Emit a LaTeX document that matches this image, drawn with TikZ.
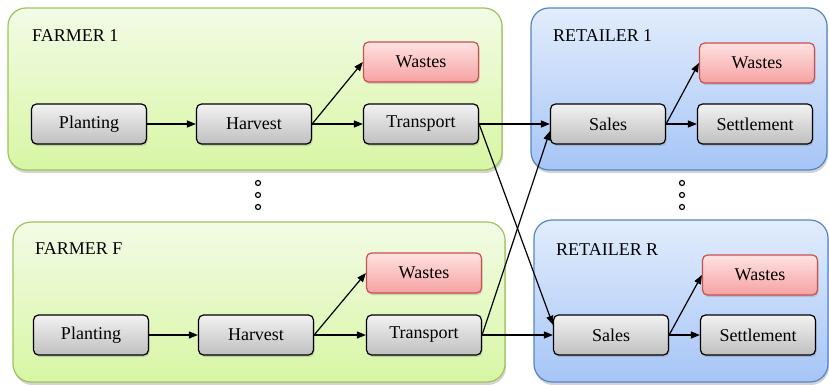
\documentclass[tikz,border=0pt]{standalone}
\usepackage{fontspec}
\setmainfont{Liberation Serif}
\usetikzlibrary{arrows.meta, shadows}

\definecolor{farmtop}{HTML}{F3FBE6}
\definecolor{farmbot}{HTML}{D8F6A4}
\definecolor{farmline}{HTML}{9DC45A}
\definecolor{shoptop}{HTML}{E2EDFD}
\definecolor{shopbot}{HTML}{A6C5F6}
\definecolor{shopline}{HTML}{5585C6}
\definecolor{wastetop}{HTML}{FFE2E2}
\definecolor{wastebot}{HTML}{F6A2A2}
\definecolor{wasteline}{HTML}{C9504E}

\begin{document}
\begin{tikzpicture}[x=1pt, y=-1pt,
    font=\fontsize{18}{21}\selectfont,
    farm/.style={draw=farmline, line width=1.2pt, rounded corners=18pt,
                 top color=farmtop, bottom color=farmbot,
                 drop shadow={shadow xshift=1pt, shadow yshift=-3pt, opacity=0.35}},
    shop/.style={draw=shopline, line width=1.2pt, rounded corners=18pt,
                 top color=shoptop, bottom color=shopbot,
                 drop shadow={shadow xshift=1pt, shadow yshift=-3pt, opacity=0.35}},
    stage/.style={draw, line width=1.2pt, rounded corners=5pt,
                  minimum width=115pt, minimum height=40pt,
                  top color=gray!10, bottom color=gray!50,
                  drop shadow={shadow xshift=1pt, shadow yshift=-2pt, opacity=0.3}},
    waste/.style={stage, draw=wasteline, top color=wastetop, bottom color=wastebot},
    title/.style={anchor=west, inner sep=0pt},
    dot/.style={draw, line width=1.2pt, fill=white, circle, inner sep=0pt, minimum size=5pt},
    arrow/.style={-{Triangle[length=9pt, width=7pt]}, line width=1.2pt},
]

\useasboundingbox (0,0) rectangle (829,385);

% containers
\node[farm, minimum width=494pt, minimum height=162pt] (farm1) at (255,89) {};
\node[shop, minimum width=296pt, minimum height=162pt] (shop1) at (679,89) {};
\node[farm, minimum width=492pt, minimum height=160pt] (farmF) at (259,302) {};
\node[shop, minimum width=294pt, minimum height=162pt] (shopR) at (681,301) {};

\node[title] (farm1lbl) at (32,36)  {FARMER 1};
\node[title] (shop1lbl) at (553,36) {RETAILER 1};
\node[title] (farmFlbl) at (35,249) {FARMER F};
\node[title] (shopRlbl) at (556,250) {RETAILER R};

% farmer 1
\node[stage] (plant1) at (89,124)  {Planting};
\node[stage] (harv1)  at (254,124) {Harvest};
\node[stage] (trans1) at (421,124) {Transport};
\node[waste] (fwaste1) at (421,62) {Wastes};

% retailer 1
\node[stage] (sales1)  at (608,124) {Sales};
\node[stage] (settle1) at (755,124) {Settlement};
\node[waste] (rwaste1) at (757,63)  {Wastes};

% farmer F
\node[stage] (plantF) at (91,335)  {Planting};
\node[stage] (harvF)  at (256,335) {Harvest};
\node[stage] (transF) at (424,335) {Transport};
\node[waste] (fwasteF) at (424,273) {Wastes};

% retailer R
\node[stage] (salesR)  at (611,335) {Sales};
\node[stage] (settleR) at (758,335) {Settlement};
\node[waste] (rwasteR) at (760,275) {Wastes};

% dots between farmers and between retailers
\node[dot] (fdot1) at (258,183) {};
\node[dot] (fdot2) at (258,195) {};
\node[dot] (fdot3) at (258,207) {};
\node[dot] (rdot1) at (682,183) {};
\node[dot] (rdot2) at (682,195) {};
\node[dot] (rdot3) at (682,207) {};

% flows inside farmers
\draw[arrow] (plant1.east) -- (harv1.west);
\draw[arrow] (harv1.east) -- (trans1.west);
\draw[arrow] (harv1.east) -- (fwaste1.west);
\draw[arrow] (plantF.east) -- (harvF.west);
\draw[arrow] (harvF.east) -- (transF.west);
\draw[arrow] (harvF.east) -- (fwasteF.west);

% flows inside retailers
\draw[arrow] (sales1.east) -- (settle1.west);
\draw[arrow] (sales1.east) -- (rwaste1.west);
\draw[arrow] (salesR.east) -- (settleR.west);
\draw[arrow] (salesR.east) -- (rwasteR.west);

% farmers to retailers
\draw[arrow] (trans1.east) -- (sales1.west);
\draw[arrow] (trans1.east) -- (salesR.170);
\draw[arrow] (transF.east) -- (sales1.187);
\draw[arrow] (transF.east) -- (salesR.west);

\end{tikzpicture}
\end{document}
